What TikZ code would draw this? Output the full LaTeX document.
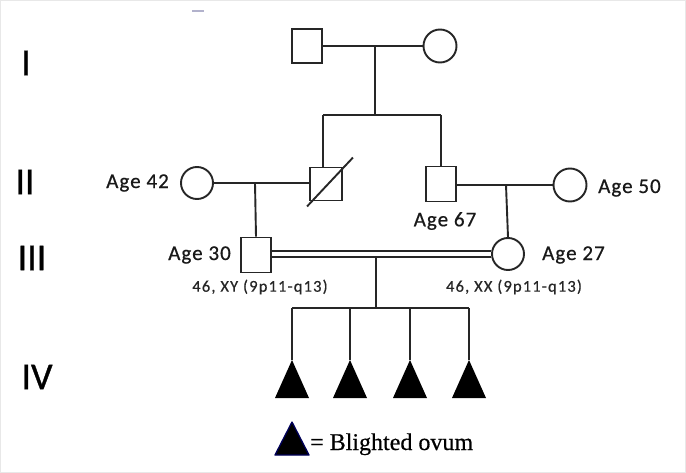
\documentclass[tikz,border=0pt]{standalone}
\usepackage{fontspec}
\newfontfamily\agefont[LetterSpace=5, FakeBold=0.6]{Carlito}
\newfontfamily\karfont[LetterSpace=7, FakeBold=0.5]{Carlito}
\newfontfamily\genfont[FakeBold=0.9]{Carlito}
\newfontfamily\legfont[FakeBold=0.5]{Liberation Serif}
\usetikzlibrary{calc}
\tikzset{
  ln/.style={line width=1.9pt, black!85},
  male/.style={draw=black!85, line width=1.9pt, rectangle, minimum width=30pt, minimum height=34pt, inner sep=0pt, fill=white},
  female/.style={draw=black!85, line width=1.9pt, circle, minimum size=33pt, inner sep=0pt, fill=white},
  agelbl/.style={font=\agefont\fontsize{21}{24}\selectfont, inner sep=0pt, text=black!90},
  karlbl/.style={font=\karfont\fontsize{16.5}{18}\selectfont, inner sep=0pt, text=black!85},
  genlbl/.style={font=\genfont\fontsize{38}{44}\selectfont, inner sep=0pt, text=black},
  blight/.style={fill=black},
}
\begin{document}
\begin{tikzpicture}[x=1pt,y=-1pt]
\useasboundingbox (0,0) rectangle (686,473);
\fill[white] (0,0) rectangle (686,473);
\draw[gray!18, line width=1pt] (0.5,0.5) rectangle (685.5,472.5);
\draw[blue!20!gray!50, line width=1.2pt] (192,11) -- (204,11);

% generation labels
\node[genlbl] (gI) at (26,63) {I};
\node[genlbl] (gII) at (25,182) {II};
\node[genlbl] (gIII) at (32,258) {III};
\node[genlbl] (gIV) at (37,377) {IV};

% coordinates
\coordinate (m1) at (375,46);
\coordinate (s1) at (375,115);
\coordinate (m2a) at (255,183);
\coordinate (m2b) at (506,185);
\coordinate (m3) at (376,254);
\coordinate (s3) at (376,308);

% Generation I
\node[male] (I1) at (307,46) {};
\node[female] (I2) at (440,46) {};
\draw[ln] (I1.east) -- (I2.west);
\draw[ln] (m1) -- (s1);

% Generation II
\node[female, minimum size=32pt] (II1) at (197,183) {};
\node[male, minimum width=32pt, minimum height=33pt] (II2) at (326,184) {};
\node[male, minimum height=35pt] (II3) at (441,184) {};
\node[female] (II4) at (570,185) {};
\draw[ln] ([xshift=-3pt]II2.north |- s1) -- (II3.north |- s1);
\draw[ln] ([xshift=-3pt]II2.north |- s1) -- ([xshift=-3pt]II2.north);
\draw[ln] (II3.north |- s1) -- (II3.north);
\draw[ln] ([shift={(-2,5)}]II2.south west) -- ([shift={(10,-9)}]II2.north east);
\draw[ln] (II1.east) -- (II2.west |- II1.east);
\draw[ln] (II3.east |- m2b) -- (II4.west |- m2b);

% Generation III
\node[male, minimum height=35pt] (III1) at (256,255) {};
\node[female, minimum size=32pt] (III2) at (508,254) {};
\draw[ln] (m2a) -- (III1.north);
\draw[ln] (m2b) -- (III2.north);
\draw[ln] (m3) -- (s3);
\draw[line width=1.7pt, draw=black!85, double=white, double distance=4pt] (III1.east |- m3) -- (III2.west |- m3);

% Generation IV
\coordinate (c1) at (292,360);
\coordinate (c2) at (350,360);
\coordinate (c3) at (410,360);
\coordinate (c4) at (469,360);
\draw[ln] (c1 |- s3) -- (c4 |- s3);
\foreach \c in {c1,c2,c3,c4} {
  \draw[ln] (\c |- s3) -- (\c);
  \fill[blight] (\c) -- ++(17,38) -- ++(-34,0) -- cycle;
}

% labels
\node[agelbl, anchor=east] (a42) at (169,183) {Age 42};
\node[agelbl, anchor=west] (a50) at (598,188) {Age 50};
\node[agelbl] (a67) at (445,221) {Age 67};
\node[agelbl, anchor=east] (a30) at (231,255) {Age 30};
\node[agelbl, anchor=west] (a27) at (542,255) {Age 27};
\node[karlbl] (k1) at (260,287) {46, XY (9p11-q13)};
\node[karlbl] (k2) at (514,287) {46, XX (9p11-q13)};

% legend
\coordinate (lt) at (292,422);
\draw[fill=black, draw=blue!35!black, line width=1.3pt, line join=round] (lt) -- ++(17,33) -- ++(-34,0) -- cycle;
\node[font=\legfont\fontsize{24}{28}\selectfont, anchor=base west, inner sep=0pt] (leg) at (310,450) {= Blighted ovum};
\end{tikzpicture}
\end{document}
